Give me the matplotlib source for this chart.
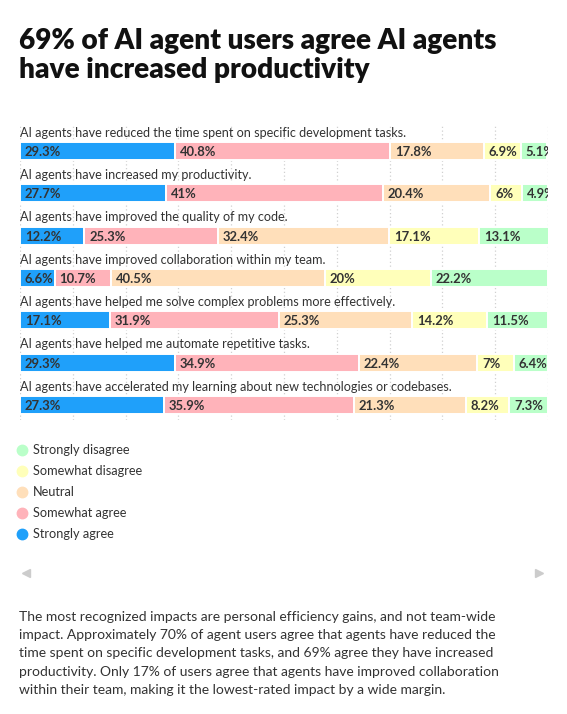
import matplotlib.pyplot as plt
from matplotlib.lines import Line2D

plt.rcParams['font.family'] = ['Lato', 'DejaVu Sans']

# survey statements, top to bottom
statements = [
    'AI agents have reduced the time spent on specific development tasks.',
    'AI agents have increased my productivity.',
    'AI agents have improved the quality of my code.',
    'AI agents have improved collaboration within my team.',
    'AI agents have helped me solve complex problems more effectively.',
    'AI agents have helped me automate repetitive tasks.',
    'AI agents have accelerated my learning about new technologies or codebases.',
]

# answer shares in %, one list per answer
strongly_agree = [29.3, 27.7, 12.2, 6.6, 17.1, 29.3, 27.3]
somewhat_agree = [40.8, 41, 25.3, 10.7, 31.9, 34.9, 35.9]
neutral = [17.8, 20.4, 32.4, 40.5, 25.3, 22.4, 21.3]
somewhat_disagree = [6.9, 6, 17.1, 20, 14.2, 7, 8.2]
strongly_disagree = [5.1, 4.9, 13.1, 22.2, 11.5, 6.4, 7.3]

answers = ['Strongly agree', 'Somewhat agree', 'Neutral', 'Somewhat disagree', 'Strongly disagree']
series = [strongly_agree, somewhat_agree, neutral, somewhat_disagree, strongly_disagree]
colors = ['#1fa0fa', '#ffb3ba', '#ffdfba', '#ffffba', '#baffc9']

title = '69% of AI agent users agree AI agents\nhave increased productivity'
note = ('The most recognized impacts are personal efficiency gains, and not team-wide\n'
        'impact. Approximately 70% of agent users agree that agents have reduced the\n'
        'time spent on specific development tasks, and 69% agree they have increased\n'
        'productivity. Only 17% of users agree that agents have improved collaboration\n'
        'within their team, making it the lowest-rated impact by a wide margin.')

W, H = 567, 714
fig = plt.figure(figsize=(W / 100, H / 100), dpi=100)

def fx(px):
    return px / W

def fy(py):
    return 1 - py / H

# bar area: x 20..548 px, y 125..420 px
ax = fig.add_axes([fx(20), fy(420), fx(528), (420 - 125) / H])
row_px = 42.3
n = len(statements)
ax.set_xlim(0, 100)
ax.set_ylim(n - 1 + (420 - 405) / row_px, -(151 - 125) / row_px)
for s in ax.spines.values():
    s.set_visible(False)
ax.set_xticks([])
ax.set_yticks([])
for gx in range(0, 101, 10):
    ax.axvline(gx, color='#d0d0d0', lw=0.9, ls=(0, (1, 2)), zorder=0)

rows = list(range(n))
left = [0] * n
for name, vals, c in zip(answers, series, colors):
    ax.barh(rows, vals, left=left, height=0.42, color=c, edgecolor='white',
            linewidth=1.4, zorder=2, label=name)
    for i, v in enumerate(vals):
        ax.text(left[i] + 0.9, i + 0.02, f'{v:g}%', ha='left', va='center',
                fontsize=9.4, fontweight='bold', color='#333333', zorder=3, clip_on=True)
    left = [a + b for a, b in zip(left, vals)]

for i, st in enumerate(statements):
    ax.text(0, i - 0.43, st, ha='left', va='center', fontsize=9.1,
            color='#333333', clip_on=False)

fig.text(fx(19), fy(28), title, ha='left', va='top', fontsize=20.2,
         fontweight='heavy', color='#111111', linespacing=1.13)

# legend
for k, (name, c) in enumerate(zip(answers[::-1], colors[::-1])):
    y = fy(450 + 21 * k)
    fig.add_artist(Line2D([fx(22)], [y], marker='o', markersize=7.5, color=c,
                          transform=fig.transFigure))
    fig.text(fx(33), y, name, ha='left', va='center', fontsize=9.2, color='#333333')

# scroll arrows
fig.add_artist(Line2D([fx(26)], [fy(573)], marker='<', markersize=6, color='#cccccc',
                      transform=fig.transFigure))
fig.add_artist(Line2D([fx(539)], [fy(573)], marker='>', markersize=6, color='#cccccc',
                      transform=fig.transFigure))

fig.text(fx(19), fy(611), note, ha='left', va='top', fontsize=10.0,
         color='#333333', linespacing=1.62)

fig.savefig('out.png', dpi=100)
